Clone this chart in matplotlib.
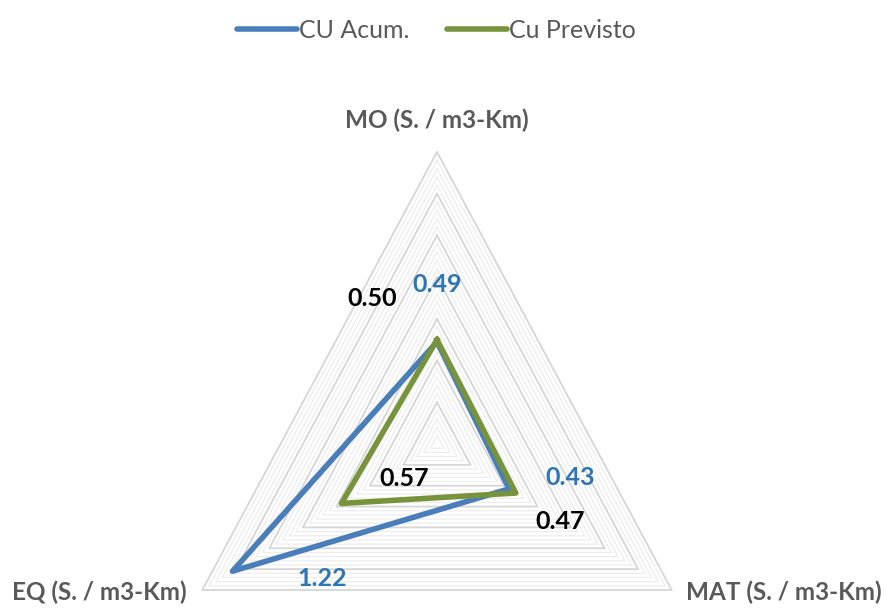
import numpy as np
import matplotlib
matplotlib.use("Agg")
import matplotlib.pyplot as plt
from matplotlib.lines import Line2D

# Categories (clockwise from the top) and series values
categories = ["MO (S. / m3-Km)", "MAT (S. / m3-Km)", "EQ (S. / m3-Km)"]
cu_acum = [0.49, 0.43, 1.22]
cu_previsto = [0.50, 0.47, 0.57]
series_names = ["CU Acum.", "Cu Previsto"]

r_max = 1.4
major_step = 0.2
minor_step = 0.04

blue = "#4A7EBB"
green = "#77933C"
label_blue = "#2E75B6"
text_gray = "#595959"

plt.rcParams["font.family"] = ["Lato", "DejaVu Sans"]

W, H = 887, 608
fig = plt.figure(figsize=(W / 100, H / 100), dpi=100)
fig.patch.set_facecolor("white")

# plot area in pixels: centre (437, 444 from top), radii 271 x 292
cx, cy, rx, ry = 437, 444, 271, 292
ax = fig.add_axes([(cx - rx) / W, (H - cy - ry) / H, 2 * rx / W, 2 * ry / H],
                  projection="polar")
ax.set_aspect("auto")
ax.set_theta_offset(np.pi / 2)
ax.set_theta_direction(-1)
ax.set_ylim(0, r_max)
ax.grid(False)
ax.set_xticks([])
ax.set_yticks([])
ax.spines["polar"].set_visible(False)
ax.patch.set_alpha(0)

n = len(categories)
angles = np.arange(n) * 2 * np.pi / n
closed = np.append(angles, angles[0])

# triangular gridlines: fine minor rings and stronger major rings
for lvl in np.arange(minor_step, r_max + 1e-9, minor_step):
    is_major = abs(lvl / major_step - round(lvl / major_step)) < 1e-6
    ax.plot(closed, [lvl] * (n + 1),
            color="#D6D6D6" if is_major else "#EDEDED",
            lw=1.3 if is_major else 0.9, zorder=1, clip_on=False)

def close(vals):
    return list(vals) + [vals[0]]

ax.plot(closed, close(cu_acum), color=blue, lw=4.0, zorder=3,
        solid_joinstyle="round", clip_on=False)
ax.plot(closed, close(cu_previsto), color=green, lw=4.0, zorder=4,
        solid_joinstyle="round", clip_on=False)

# category labels, offset from the outer vertices
cat_offsets = [(0, 32), (112, -2), (-103, -2)]
for ang, name, off in zip(angles, categories, cat_offsets):
    ax.annotate(name, xy=(ang, r_max), xytext=(off[0] * 0.72, off[1] * 0.72),
                textcoords="offset points", ha="center", va="center",
                fontsize=17.5, fontweight="bold", color=text_gray,
                annotation_clip=False)

# data labels (pixel offsets from each point)
acum_offsets = [(0, 57), (61, 11), (90, -7)]
prev_offsets = [(-65, 41), (44, -28), (63, 25)]
for vals, offs, col in ((cu_acum, acum_offsets, label_blue),
                        (cu_previsto, prev_offsets, "black")):
    for ang, v, off in zip(angles, vals, offs):
        ax.annotate(f"{v:.2f}", xy=(ang, v),
                    xytext=(off[0] * 0.72, off[1] * 0.72),
                    textcoords="offset points", ha="center", va="center",
                    fontsize=18, fontweight="bold", color=col,
                    annotation_clip=False, zorder=5)

handles = [Line2D([], [], color=blue, lw=4.0, solid_capstyle="round"),
           Line2D([], [], color=green, lw=4.0, solid_capstyle="round")]
leg = fig.legend(handles, series_names, loc="center", bbox_to_anchor=(0.492, 1 - 30 / H),
                 ncol=2, frameon=False, fontsize=18, handlelength=2.4,
                 handletextpad=0.1, columnspacing=1.5)
for t in leg.get_texts():
    t.set_color(text_gray)

fig.savefig("out.png", dpi=100, facecolor="white")
